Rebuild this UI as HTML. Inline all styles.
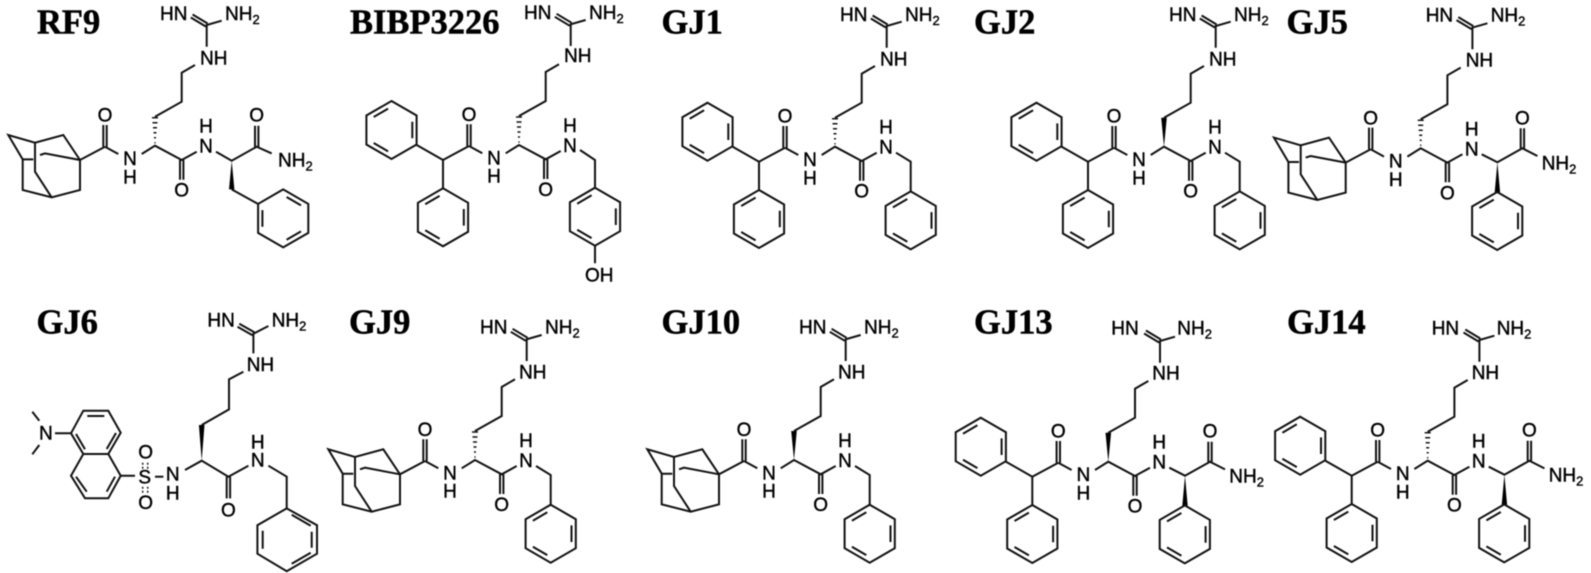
<!DOCTYPE html>
<html>
<head>
<meta charset="utf-8">
<title>Compounds</title>
<style>
html,body{margin:0;padding:0;background:#fff;width:1591px;height:573px;overflow:hidden}
svg{display:block;filter:blur(.55px)}
.b{fill:none;stroke:#111;stroke-width:2;stroke-linejoin:miter;stroke-linecap:butt}
.w{fill:#000;stroke:none}
text{font-family:"Liberation Sans",sans-serif;font-size:19px;fill:#000;stroke:#000;stroke-width:.4px}
text.m{text-anchor:middle}
text.t{font-family:"Liberation Serif",serif;font-weight:bold;font-size:34.5px;stroke-width:.5px}
tspan{font-size:13px}
</style>
</head>
<body>
<svg width="1591" height="573" viewBox="0 0 1591 573" xmlns="http://www.w3.org/2000/svg">
<defs>
<g id="ph" class="b"><path d="M0,-29L25.1,-14.5V14.5L0,29L-25.1,14.5V-14.5Z"/><path d="M-17.8,-13L-3.4,-21.4M20.8,-8.3V8.3M-17.8,13L-3.4,21.4"/></g>
<g id="core" class="b"><path d="M0,-29L26.7,-44V-73L40,-80.7"/><path d="M51.7,-99V-120.7L66.7,-125M52.6,-122.2L37.6,-131.2M50.8,-119.2L35.8,-128.2"/><path d="M-13.3,8.3L0,0L26.7,14.3L41.7,6M25,14.3V34M28.4,14.3V34"/><path d="M-36.7,8.3L-50,1M-51.7,1V-20.7M-48.3,1V-20.7"/></g>
<path id="hash" class="b" style="stroke-width:1.5" d="M-.6,-3H.6M-1,-8H1M-1.5,-13H1.5M-2,-18H2M-2.5,-23H2.5M-3,-28H3"/>
<polygon id="wedge" class="w" points="0,0 -2.8,-29 2.8,-29"/>
<g id="adam" class="b"><path d="M-50,1L-75,14.3L-91.7,-10.7L-120,-3L-146.7,-10.7L-132.3,13.7V44.3L-103.3,51.7L-75,44.3V14.3"/><path d="M-120,-3V26L-103.3,51.7M-132.3,13.7H-121.7M-115,9.3L-110,7.7L-75,14.3"/></g>
<g id="dpm"><path class="b" d="M-50,1L-76,15L-102.3,0M-76,15V43.3"/><use href="#ph" transform="translate(-127.5,-15)"/><use href="#ph" transform="translate(-76,72.3)"/></g>
<g id="bn"><path class="b" d="M61,6L75.7,15V45"/><use href="#ph" transform="translate(75.7,73.7)"/></g>
<g id="gly"><path class="b" d="M61,6L76.7,14L101.7,0L116.7,7.7M100,0V-20M103.4,0V-20"/><polygon class="w" points="76.7,14 74,44 79.4,44"/><use href="#ph" transform="translate(76.5,72.7)"/></g>
</defs>
<rect width="1591" height="573" fill="#fff"/>

<text class="t" x="37" y="33.5">RF9</text>
<text class="t" x="350" y="33.5">BIBP3226</text>
<text class="t" x="661.5" y="33.5">GJ1</text>
<text class="t" x="974" y="33.5">GJ2</text>
<text class="t" x="1286.5" y="33.5">GJ5</text>
<text class="t" x="36.5" y="333.5">GJ6</text>
<text class="t" x="349" y="333.5">GJ9</text>
<text class="t" x="661.5" y="333.5">GJ10</text>
<text class="t" x="974" y="333.5">GJ13</text>
<text class="t" x="1287" y="333.5">GJ14</text>

<!-- RF9 -->
<g transform="translate(155,145.7)">
<use href="#core"/><use href="#hash"/><use href="#adam"/>
<path class="b" d="M61,6L76.7,15L101.7,1L116.7,7.7M100,1V-20M103.4,1V-20M76.7,43.7L103,58.2"/>
<polygon class="w" points="76.7,15 74,43.7 79.4,43.7"/>
<use href="#ph" transform="translate(128.2,72.7) scale(-1,1)"/>
<text x="5" y="-125.5">HN</text><text x="70" y="-125.5">NH<tspan dy="4">2</tspan></text><text x="45" y="-81">NH</text>
<text class="m" x="-50" y="-24">O</text><text class="m" x="-25" y="19.3">N</text><text class="m" x="-25" y="37.6">H</text>
<text class="m" x="26.7" y="51">O</text><text class="m" x="51" y="7">N</text><text class="m" x="51" y="-13">H</text>
<text class="m" x="101.7" y="-24">O</text><text x="123" y="21">NH<tspan dy="4">2</tspan></text>
</g>

<!-- BIBP3226 -->
<g transform="translate(519,145)">
<use href="#core"/><use href="#hash"/><use href="#dpm"/>
<path class="b" d="M61,5L76,15V43.3M76,100V118.3"/>
<use href="#ph" transform="translate(76,71.7)"/>
<text x="5" y="-126">HN</text><text x="70" y="-126">NH<tspan dy="4">2</tspan></text><text x="45" y="-83">NH</text>
<text class="m" x="-50" y="-24">O</text><text class="m" x="-25" y="19.3">N</text><text class="m" x="-25" y="37.6">H</text>
<text class="m" x="26.7" y="51">O</text><text class="m" x="51" y="7">N</text><text class="m" x="51" y="-13">H</text>
<text x="66" y="136.5">OH</text>
</g>

<!-- GJ1 -->
<g transform="translate(835,146.7)">
<use href="#core"/><use href="#hash"/><use href="#dpm"/><use href="#bn"/>
<text x="5" y="-125.5">HN</text><text x="70" y="-125.5">NH<tspan dy="4">2</tspan></text><text x="45" y="-81">NH</text>
<text class="m" x="-50" y="-24">O</text><text class="m" x="-25" y="19.3">N</text><text class="m" x="-25" y="37.6">H</text>
<text class="m" x="26.7" y="51">O</text><text class="m" x="51" y="7">N</text><text class="m" x="51" y="-13">H</text>
</g>

<!-- GJ2 -->
<g transform="translate(1164,146.7)">
<use href="#core"/><use href="#wedge"/><use href="#dpm"/><use href="#bn"/>
<text x="5" y="-125.5">HN</text><text x="70" y="-125.5">NH<tspan dy="4">2</tspan></text><text x="45" y="-81">NH</text>
<text class="m" x="-50" y="-24">O</text><text class="m" x="-25" y="19.3">N</text><text class="m" x="-25" y="37.6">H</text>
<text class="m" x="26.7" y="51">O</text><text class="m" x="51" y="7">N</text><text class="m" x="51" y="-13">H</text>
</g>

<!-- GJ5 -->
<g transform="translate(1420.7,148.3)">
<use href="#core"/><use href="#hash"/><use href="#adam"/><use href="#gly"/>
<text x="5" y="-127">HN</text><text x="70" y="-127">NH<tspan dy="4">2</tspan></text><text x="45" y="-82">NH</text>
<text class="m" x="-50" y="-24">O</text><text class="m" x="-25" y="19.3">N</text><text class="m" x="-25" y="37.6">H</text>
<text class="m" x="26.7" y="51">O</text><text class="m" x="51" y="7">N</text><text class="m" x="51" y="-13">H</text>
<text class="m" x="101.7" y="-24">O</text><text x="121" y="21">NH<tspan dy="4">2</tspan></text>
</g>

<!-- GJ6 naphthalene -->
<path class="b" d="M83.3,410.7H108.3L120.7,432.7L108.3,454H83.3L71,433.3ZM108.3,454L120.7,475.7L108.3,498.3H85L71,475.7L83.3,454"/>
<path class="b" d="M87.3,416H104.3M116,433L106.7,449M76,434L85,449.3M115,476.7L106.7,491.7M76,476.7L86.7,491.7"/>
<path class="b" d="M120.7,475.7H135M71,433.3H55M39.3,420.7L32.3,411.7M39.3,445L32.3,454.3"/>
<text x="39" y="439.5">N</text>
<g transform="translate(201.7,460.7)">
<polygon class="w" points="0,0 -2.8,-35.7 2.8,-35.7"/>
<path class="b" d="M0,-35.7L27.3,-51.3V-81.3L41.7,-89"/>
<path class="b" d="M51.7,-107.3V-127L66.7,-134.7M52.6,-128.5L37.6,-137M50.8,-125.5L35.8,-134"/>
<path class="b" d="M-16.7,9.3L0,0L26.7,16L46.7,5M66.7,5L85,16V47.7M25,16V37.7M28.4,16V37.7"/>
<path class="b" d="M-46.7,16H-38.3"/>
<path class="b" style="stroke-width:1.4" stroke-dasharray="2 2" d="M-59,2V9M-54,2V9M-59,26V33M-54,26V33"/>
<path class="b" d="M85,47.7L115.3,64.5V93L85,110.5L55.7,93V64.5ZM90,54L109,65M110,71V87M90,103L109,92M61,70V88" />
<text x="5.7" y="-134">HN</text><text x="70" y="-134">NH<tspan dy="4">2</tspan></text><text x="45" y="-89.7">NH</text>
<text class="m" x="-57" y="22.7">S</text><text class="m" x="-56" y="-2.3">O</text><text class="m" x="-56" y="48.3">O</text>
<text class="m" x="-29" y="20">N</text><text class="m" x="-29" y="38.7">H</text>
<text class="m" x="26.7" y="56">O</text><text class="m" x="56" y="6">N</text><text class="m" x="56" y="-12.3">H</text>
</g>

<!-- GJ9 -->
<g transform="translate(475,460)">
<use href="#core"/><use href="#hash"/><use href="#adam"/><use href="#bn"/>
<text x="5" y="-126.5">HN</text><text x="70" y="-126.5">NH<tspan dy="4">2</tspan></text><text x="44" y="-81.5">NH</text>
<text class="m" x="-50" y="-24">O</text><text class="m" x="-25" y="19.3">N</text><text class="m" x="-25" y="37.6">H</text>
<text class="m" x="26.7" y="51">O</text><text class="m" x="51" y="7">N</text><text class="m" x="51" y="-13">H</text>
</g>

<!-- GJ10 -->
<g transform="translate(794,460)">
<use href="#core"/><use href="#wedge"/><use href="#adam"/><use href="#bn"/>
<text x="5" y="-126.5">HN</text><text x="70" y="-126.5">NH<tspan dy="4">2</tspan></text><text x="44" y="-81.5">NH</text>
<text class="m" x="-50" y="-24">O</text><text class="m" x="-25" y="19.3">N</text><text class="m" x="-25" y="37.6">H</text>
<text class="m" x="26.7" y="51">O</text><text class="m" x="51" y="7">N</text><text class="m" x="51" y="-13">H</text>
</g>

<!-- GJ13 -->
<g transform="translate(1108.3,461.7)">
<use href="#core"/><use href="#wedge"/><use href="#dpm"/><use href="#gly"/>
<text x="3" y="-127">HN</text><text x="69" y="-127">NH<tspan dy="4">2</tspan></text><text x="44" y="-82">NH</text>
<text class="m" x="-50" y="-24">O</text><text class="m" x="-25" y="19.3">N</text><text class="m" x="-25" y="37.6">H</text>
<text class="m" x="26.7" y="51">O</text><text class="m" x="51" y="7">N</text><text class="m" x="51" y="-13">H</text>
<text class="m" x="101.7" y="-24">O</text><text x="121" y="21">NH<tspan dy="4">2</tspan></text>
</g>

<!-- GJ14 -->
<g transform="translate(1427.7,460.7)">
<use href="#core"/><use href="#hash"/><use href="#dpm"/><use href="#gly"/>
<text x="4" y="-126">HN</text><text x="69" y="-126">NH<tspan dy="4">2</tspan></text><text x="44" y="-81.5">NH</text>
<text class="m" x="-50" y="-24">O</text><text class="m" x="-25" y="19.3">N</text><text class="m" x="-25" y="37.6">H</text>
<text class="m" x="26.7" y="51">O</text><text class="m" x="51" y="7">N</text><text class="m" x="51" y="-13">H</text>
<text class="m" x="101.7" y="-24">O</text><text x="121" y="21">NH<tspan dy="4">2</tspan></text>
</g>
</svg>
</body>
</html>
